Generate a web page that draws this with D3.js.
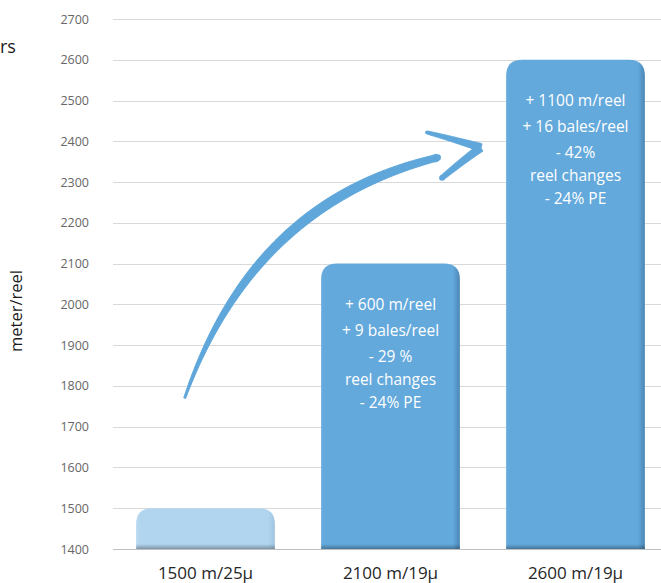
<!DOCTYPE html>
<html><head><meta charset="utf-8">
<script src="https://cdn.jsdelivr.net/npm/d3@7"></script>
<style>body{margin:0;background:#fff}svg{display:block}</style>
</head><body>
<svg id="c" width="661" height="583"></svg>
<script>
const categories = ["1500 m/25µ", "2100 m/19µ", "2600 m/19µ"];
const values = [1500, 2100, 2600];
const barNotes = [
  [],
  ["+ 600 m/reel", "+ 9 bales/reel", "- 29 %", "reel changes", "- 24% PE"],
  ["+ 1100 m/reel", "+ 16 bales/reel", "- 42%", "reel changes", "- 24% PE"]
];
const yTicks = [1400,1500,1600,1700,1800,1900,2000,2100,2200,2300,2400,2500,2600,2700];
const yTitle = "meter/reel";
const clippedTitle = "rs";

const svg = d3.select("#c");
const font = "'Open Sans', sans-serif";
const y = d3.scaleLinear().domain([1400, 2700]).range([549, 19]);
const x = d3.scaleBand().domain(categories).range([113, 668]).paddingInner(0.25).paddingOuter(0.125);

const defs = svg.append("defs");
function grads(id, base, dark, light) {
  const h = defs.append("linearGradient").attr("id", id + "h").attr("x1", 0).attr("x2", 1).attr("y1", 0).attr("y2", 0);
  h.append("stop").attr("offset", 0).attr("stop-color", light);
  h.append("stop").attr("offset", 0.03).attr("stop-color", base);
  h.append("stop").attr("offset", 0.95).attr("stop-color", base);
  h.append("stop").attr("offset", 1).attr("stop-color", dark);
}
grads("b1", "#b2d5ef", "#9fc4e0", "#b8d9f1");
grads("b2", "#63a9dc", "#4a86b4", "#68acde");
const v = defs.append("linearGradient").attr("id", "bot").attr("x1", 0).attr("x2", 0).attr("y1", 0).attr("y2", 1);
v.append("stop").attr("offset", 0).attr("stop-color", "#000").attr("stop-opacity", 0);
v.append("stop").attr("offset", 1).attr("stop-color", "#000").attr("stop-opacity", 0.3);

// grid
svg.append("g").selectAll("line").data(yTicks).join("line")
  .attr("x1", 113).attr("x2", 661)
  .attr("y1", d => Math.round(y(d)) + 0.5).attr("y2", d => Math.round(y(d)) + 0.5)
  .attr("stroke", d => d === 1400 ? "#bfbfbf" : "#d9d9d9").attr("stroke-width", 1);

// tick labels
svg.append("g").selectAll("text").data(yTicks).join("text")
  .attr("x", 89).attr("y", d => y(d) + 4.5)
  .attr("text-anchor", "end").attr("font-family", font).attr("font-size", 12.5)
  .attr("fill", "#666666").text(d => d);

// bars
function barPath(x0, w, top, bottom, r) {
  return `M${x0},${bottom}V${top + r}Q${x0},${top} ${x0 + r},${top}H${x0 + w - r}Q${x0 + w},${top} ${x0 + w},${top + r}V${bottom}Z`;
}
const bars = svg.append("g");
categories.forEach((c, i) => {
  const x0 = x(c), w = x.bandwidth(), top = y(values[i]), bottom = y(1400);
  const r = Math.min(16, (bottom - top) / 2);
  bars.append("path").attr("d", barPath(x0, w, top, bottom, r)).attr("fill", `url(#${i === 0 ? "b1" : "b2"}h)`);
  bars.append("rect").attr("x", x0).attr("y", bottom - 5).attr("width", w).attr("height", 5).attr("fill", "url(#bot)");
  const cx = x0 + w / 2;
  const lineY = [0, 26, 52, 75, 98];
  barNotes[i].forEach((t, j) => {
    bars.append("text").attr("x", cx).attr("y", top + 46 + lineY[j])
      .attr("text-anchor", "middle").attr("font-family", font).attr("font-size", 15.5)
      .attr("fill", "#ffffff").text(t);
  });
});

// category labels
svg.append("g").selectAll("text").data(categories).join("text")
  .attr("x", d => x(d) + x.bandwidth() / 2).attr("y", 579)
  .attr("text-anchor", "middle").attr("font-family", font).attr("font-size", 17)
  .attr("fill", "#262626").text(d => d);

// y title
svg.append("text").attr("transform", "translate(22,311) rotate(-90)")
  .attr("text-anchor", "middle").attr("font-family", font).attr("font-size", 16.5)
  .attr("fill", "#1a1a1a").text(yTitle);
svg.append("text").attr("x", 0).attr("y", 53).attr("text-anchor", "start")
  .attr("font-family", font).attr("font-size", 18).attr("fill", "#1a1a1a").text(clippedTitle);

// brush arrow (in data space: x by category band, y by value)
const bx = (i, f) => x(categories[i]) + f * x.bandwidth();
function tapered(pts, wfn, n = 60) {
  const [p0, p1, p2, p3] = pts;
  const bez = t => {
    const u = 1 - t;
    return [u*u*u*p0[0] + 3*u*u*t*p1[0] + 3*u*t*t*p2[0] + t*t*t*p3[0],
            u*u*u*p0[1] + 3*u*u*t*p1[1] + 3*u*t*t*p2[1] + t*t*t*p3[1]];
  };
  const left = [], right = [];
  for (let k = 0; k <= n; k++) {
    const t = k / n, p = bez(t), q = bez(Math.min(1, t + 0.001)), q0 = bez(Math.max(0, t - 0.001));
    let dx = q[0] - q0[0], dy = q[1] - q0[1]; const L = Math.hypot(dx, dy) || 1;
    const nx = -dy / L, ny = dx / L, hw = wfn(t) / 2;
    left.push([p[0] + nx * hw, p[1] + ny * hw]);
    right.push([p[0] - nx * hw, p[1] - ny * hw]);
  }
  return d3.line().curve(d3.curveCatmullRom)(left.concat(right.reverse())) + "Z";
}
const arrowCol = "#5fa7db";
const P = (i, f, val) => [bx(i, f), y(val)];
const g = svg.append("g").attr("fill", arrowCol).attr("stroke", arrowCol).attr("stroke-width", 1).attr("stroke-linejoin", "round");
g.append("path").attr("d", tapered([P(0, 0.35, 1770), P(0, 0.70, 2110), P(1, 0.0, 2290), P(1, 0.84, 2360)],
  t => 2 + 7.5 * Math.sin(Math.PI * t * 0.8)));
g.append("path").attr("d", tapered([P(1, 0.76, 2422), P(1, 0.9, 2410), P(1, 1.05, 2395), P(1, 1.15, 2385)],
  t => 3 + 5 * t));
g.append("path").attr("d", tapered([P(1, 1.15, 2384), P(1, 1.05, 2360), P(1, 0.96, 2335), P(1, 0.87, 2310)],
  t => 8 - 3 * t));
g.selectAll("circle").data([P(1, 0.87, 2310), P(1, 0.76, 2422), P(1, 0.84, 2360)]).join("circle")
  .attr("cx", d => d[0]).attr("cy", d => d[1]).attr("r", (d, k) => [2.7, 1.5, 3.3][k]).attr("stroke", "none");
</script>
</body></html>
